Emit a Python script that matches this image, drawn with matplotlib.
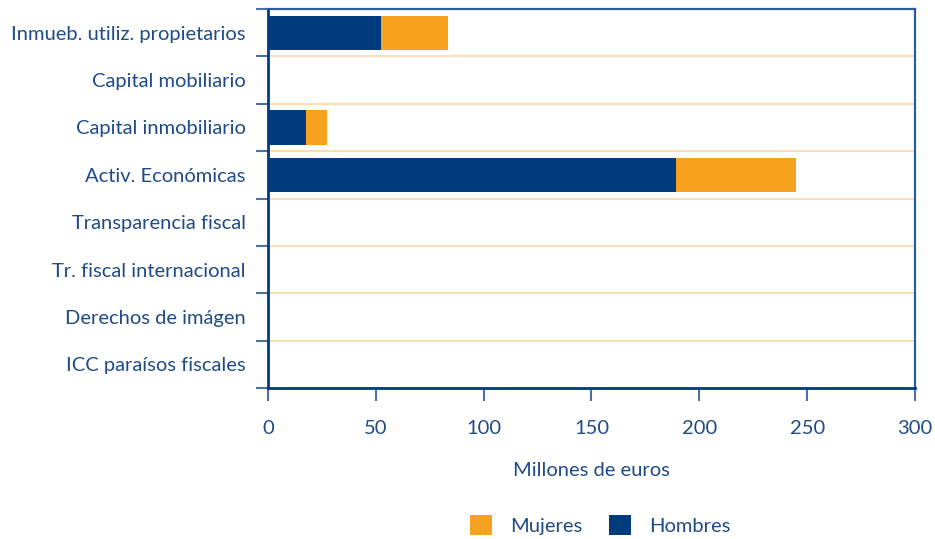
import matplotlib
matplotlib.use("Agg")
import matplotlib.pyplot as plt
import numpy as np

categories = [
    "Inmueb. utiliz. propietarios",
    "Capital mobiliario",
    "Capital inmobiliario",
    "Activ. Económicas",
    "Transparencia fiscal",
    "Tr. fiscal internacional",
    "Derechos de imágen",
    "ICC paraísos fiscales",
]
hombres = [52.5, 0, 17.5, 189, 0, 0, 0, 0]
mujeres = [31, 0, 10, 56, 0, 0, 0, 0]
xticks = [0, 50, 100, 150, 200, 250, 300]

NAVY = "#003c7d"
ORANGE = "#f6a21e"
TEXT = "#1f4b87"
GRID = "#fdd8a6"

plt.rcParams["font.family"] = ["Lato", "DejaVu Sans"]

fig = plt.figure(figsize=(9.35, 5.39), dpi=100)
ax = fig.add_axes([0.2866, 0.2801, 0.6920, 0.7032])

y = np.arange(len(categories))
ax.barh(y, hombres, height=0.72, color=NAVY, label="Hombres", zorder=3)
ax.barh(y, mujeres, left=hombres, height=0.72, color=ORANGE, label="Mujeres", zorder=3)

ax.set_ylim(len(categories) - 0.5, -0.5)
ax.set_xlim(0, 300)
ax.set_yticks(y)
ax.set_yticklabels(categories)
ax.set_yticks(np.arange(len(categories) + 1) - 0.5, minor=True)
ax.set_xticks(xticks)

ax.tick_params(axis="y", which="major", length=0, pad=16, labelsize=14.5, labelcolor=TEXT)
ax.tick_params(axis="y", which="minor", length=9, width=1.5, color="#4a70a4")
ax.tick_params(axis="x", length=9, width=1.5, color="#4a70a4", pad=14,
               labelsize=14.5, labelcolor=TEXT)
ax.grid(axis="y", which="minor", color=GRID, lw=1.2, zorder=1)

for side in ["left", "bottom"]:
    ax.spines[side].set_color(NAVY)
    ax.spines[side].set_linewidth(2)
for side in ["top", "right"]:
    ax.spines[side].set_color("#2b5c9c")
    ax.spines[side].set_linewidth(1.6)

ax.set_xlabel("Millones de euros", fontsize=14.5, color=TEXT, labelpad=18)

handles, labels = ax.get_legend_handles_labels()
fig.legend(handles[::-1], labels[::-1], loc="center", bbox_to_anchor=(0.642, 0.026),
           ncol=2, frameon=False, fontsize=14.5, labelcolor=TEXT,
           handlelength=1.1, handleheight=1.1, columnspacing=1.3, handletextpad=0.9)

fig.savefig("out.png", dpi=100)
